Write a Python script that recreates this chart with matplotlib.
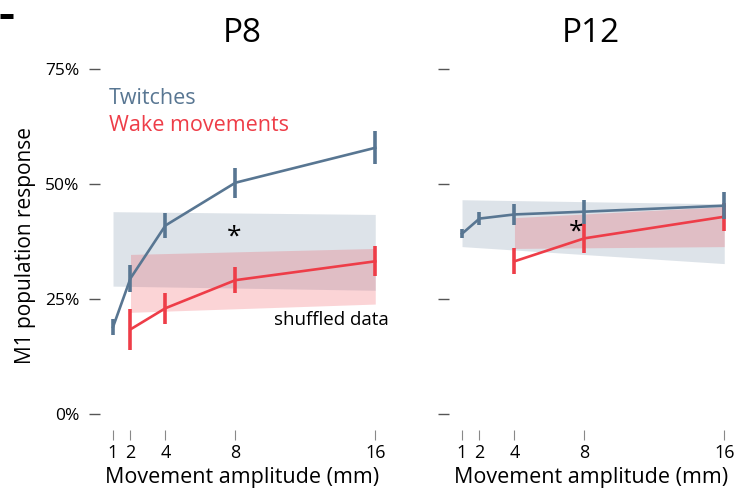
import numpy as np
import matplotlib
matplotlib.use("Agg")
import matplotlib.pyplot as plt
from matplotlib import rcParams
from matplotlib.lines import Line2D

rcParams['font.family'] = ['Open Sans', 'DejaVu Sans']

# Data (fractions of population)
p8_tw_x = [1, 2, 4, 8, 16]
p8_tw_y = [0.189, 0.295, 0.410, 0.503, 0.579]
p8_tw_err = [0.018, 0.030, 0.028, 0.033, 0.036]
p8_wk_x = [2, 4, 8, 16]
p8_wk_y = [0.184, 0.230, 0.291, 0.332]
p8_wk_err = [0.045, 0.034, 0.028, 0.033]

p12_tw_x = [1, 2, 4, 8, 16]
p12_tw_y = [0.392, 0.425, 0.434, 0.440, 0.453]
p12_tw_err = [0.010, 0.014, 0.022, 0.026, 0.029]
p12_wk_x = [4, 8, 16]
p12_wk_y = [0.332, 0.382, 0.429]
p12_wk_err = [0.028, 0.031, 0.030]

# shuffled-data bands (lower, upper) at the ends
p8_tw_band_x = [1, 16]
p8_tw_band_lo = [0.278, 0.269]
p8_tw_band_hi = [0.440, 0.434]
p8_wk_band_x = [2, 16]
p8_wk_band_lo = [0.221, 0.239]
p8_wk_band_hi = [0.347, 0.360]

p12_tw_band_x = [1, 16]
p12_tw_band_lo = [0.364, 0.327]
p12_tw_band_hi = [0.466, 0.457]
p12_wk_band_x = [4, 16]
p12_wk_band_lo = [0.360, 0.364]
p12_wk_band_hi = [0.427, 0.451]

xticks = [1, 2, 4, 8, 16]
yticks = [0, 0.25, 0.5, 0.75]
ytick_labels = ['0%', '25%', '50%', '75%']

blue = '#587692'
red = '#ee3d48'

fig = plt.figure(figsize=(7.38, 4.94), dpi=100)
W, H = 738, 494
ax1 = fig.add_axes([100 / W, (H - 430) / H, 284 / W, 370 / H])
ax2 = fig.add_axes([449 / W, (H - 430) / H, 284 / W, 370 / H])

panels = [
    (ax1, 'P8', p8_tw_x, p8_tw_y, p8_tw_err, p8_wk_x, p8_wk_y, p8_wk_err,
     p8_tw_band_x, p8_tw_band_lo, p8_tw_band_hi,
     p8_wk_band_x, p8_wk_band_lo, p8_wk_band_hi, (7.9, 0.385)),
    (ax2, 'P12', p12_tw_x, p12_tw_y, p12_tw_err, p12_wk_x, p12_wk_y, p12_wk_err,
     p12_tw_band_x, p12_tw_band_lo, p12_tw_band_hi,
     p12_wk_band_x, p12_wk_band_lo, p12_wk_band_hi, (7.5, 0.395)),
]

for (ax, title, tx, ty, te, wx, wy, we, tbx, tbl, tbh, wbx, wbl, wbh, star) in panels:
    # shuffled bands
    ax.fill_between(tbx, tbl, tbh, color=blue, alpha=0.2, lw=0, zorder=1)
    ax.fill_between(wbx, wbl, wbh, color=red, alpha=0.22, lw=0, zorder=2)

    # wake movements (drawn under twitches)
    ax.plot(wx, wy, color=red, lw=1.9, zorder=3)
    ax.errorbar(wx, wy, yerr=we, fmt='none', ecolor=red, elinewidth=2.6, capsize=0, zorder=3)

    # twitches
    ax.plot(tx, ty, color=blue, lw=1.9, zorder=4)
    ax.errorbar(tx, ty, yerr=te, fmt='none', ecolor=blue, elinewidth=2.6, capsize=0, zorder=4)

    ax.text(star[0], star[1], '*', fontsize=19, ha='center', va='center', color='black', zorder=5)

    ax.set_xlim(0.256, 16.5)
    ax.set_ylim(-0.035, 0.77)
    ax.set_xticks(xticks)
    ax.set_xticklabels([str(v) for v in xticks])
    ax.set_yticks(yticks)
    ax.set_yticklabels(ytick_labels if ax is ax1 else [])
    for s in ax.spines.values():
        s.set_visible(False)
    ax.tick_params(axis='y', length=8, width=1, color='#555555', pad=7, labelsize=12.5)
    ax.tick_params(axis='x', length=7, width=0.8, color='#888888', pad=3, labelsize=13)
    ax.set_xlabel('Movement amplitude (mm)', fontsize=15.5, labelpad=4)
    ax.set_title(title, fontsize=24, pad=13)

ax1.set_ylabel('M1 population response', fontsize=15, labelpad=6)

ax1.text(0.75, 0.687, 'Twitches', color=blue, fontsize=15.5, ha='left', va='center')
ax1.text(0.75, 0.627, 'Wake movements', color=red, fontsize=15.5, ha='left', va='center')
ax1.text(16.75, 0.204, 'shuffled data', color='black', fontsize=13.5, ha='right', va='center',
         clip_on=False)

# cut-off panel letter stroke at top-left corner
fig.add_artist(Line2D([0, 13 / W], [1 - 16.5 / H, 1 - 16.5 / H], color='black', lw=3.6,
                      solid_capstyle='butt'))

plt.savefig('out.png', dpi=100)
